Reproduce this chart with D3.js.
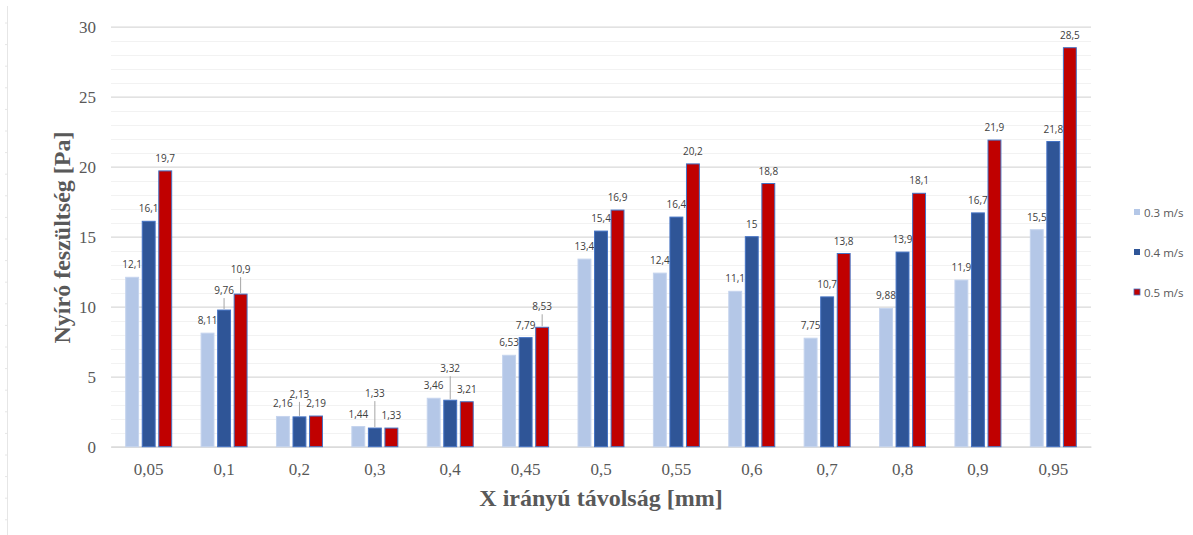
<!DOCTYPE html>
<html>
<head>
<meta charset="utf-8">
<script src="https://cdn.jsdelivr.net/npm/d3@7"></script>
<style>
  html, body { margin: 0; padding: 0; background: #fff; }
  svg { display: block; }
</style>
</head>
<body>
<svg id="chart" width="1193" height="535"></svg>
<script>
// ---- data ----
const categories = ["0,05", "0,1", "0,2", "0,3", "0,4", "0,45", "0,5", "0,55", "0,6", "0,7", "0,8", "0,9", "0,95"];
const seriesNames = ["0.3 m/s", "0.4 m/s", "0.5 m/s"];
const s03 = [12.1, 8.11, 2.16, 1.44, 3.46, 6.53, 13.4, 12.4, 11.1, 7.75, 9.88, 11.9, 15.5];
const s04 = [16.1, 9.76, 2.13, 1.33, 3.32, 7.79, 15.4, 16.4, 15, 10.7, 13.9, 16.7, 21.8];
const s05 = [19.7, 10.9, 2.19, 1.33, 3.21, 8.53, 16.9, 20.2, 18.8, 13.8, 18.1, 21.9, 28.5];
const yTicks = [0, 5, 10, 15, 20, 25, 30];
const xTitle = "X irányú távolság [mm]";
const yTitle = "Nyíró feszültség [Pa]";

// ---- layout / style ----
const colors = ["#b4c7e7", "#2f5597", "#c00000"];
const strokes = ["#c5d4ee", "#4472c4", "#4472c4"];
const plotL = 111, plotR = 1091, plotT = 26.7, plotB = 446.7;
// label lifts (label centre above bar top) for labels that were moved with leader lines
const defaultLift = 13;
const liftOverride = { "1-1": 20, "1-2": 25, "2-1": 23, "3-1": 35, "4-1": 32, "5-2": 21 };

const allSeries = [s03, s04, s05];
const svg = d3.select("#chart");

const x0 = d3.scaleBand().domain(categories).range([plotL, plotR]).paddingInner(0.39).paddingOuter(0.195);
const x1 = d3.scaleBand().domain(d3.range(3)).range([0, x0.bandwidth()]).paddingInner(0.22).paddingOuter(0);
const y = d3.scaleLinear().domain([0, 30]).range([plotB, plotT]);

// faint frame line at left edge
svg.append("line").attr("x1", 7.5).attr("x2", 7.5).attr("y1", 6).attr("y2", 535)
  .attr("stroke", "#e6e6e6").attr("stroke-width", 1);
svg.selectAll(".ftick").data(d3.range(0, 25)).join("line")
  .attr("x1", 5).attr("x2", 7.5)
  .attr("y1", d => 23 + d * 21.6).attr("y2", d => 23 + d * 21.6)
  .attr("stroke", "#e6e6e6");

// minor gridlines
svg.append("g").selectAll("line").data(d3.range(1, 31).filter(v => v % 5 !== 0)).join("line")
  .attr("x1", plotL).attr("x2", plotR)
  .attr("y1", d => Math.round(y(d)) + 0.5).attr("y2", d => Math.round(y(d)) + 0.5)
  .attr("stroke", "#f2f2f2").attr("stroke-width", 1);

// major gridlines via axis
const yAxis = d3.axisLeft(y).tickValues(yTicks).tickSize(-(plotR - plotL)).tickFormat(d => d);
const gy = svg.append("g").attr("transform", `translate(${plotL},0)`).call(yAxis);
gy.select(".domain").remove();
gy.selectAll(".tick line").attr("stroke", "#d9d9d9").attr("stroke-width", 1.2);
gy.selectAll(".tick text")
  .attr("x", -15)
  .attr("font-family", "'Liberation Serif', 'Times New Roman', serif")
  .attr("font-size", 17).attr("fill", "#595959");

// x axis
const xAxis = d3.axisBottom(x0).tickSize(0).tickPadding(0);
const gx = svg.append("g").attr("transform", `translate(0,${plotB})`).call(xAxis);
gx.select(".domain").attr("stroke", "#d9d9d9").attr("stroke-width", 1.2);
gx.selectAll(".tick text")
  .attr("y", 28).attr("dy", 0)
  .attr("font-family", "'Liberation Serif', 'Times New Roman', serif")
  .attr("font-size", 17).attr("fill", "#595959");

const fmt = v => String(v).replace(".", ",");

// bars + labels, series by series
allSeries.forEach((vals, si) => {
  const g = svg.append("g");
  g.selectAll("rect").data(vals).join("rect")
    .attr("x", (d, i) => x0(categories[i]) + x1(si))
    .attr("y", d => y(d))
    .attr("width", x1.bandwidth())
    .attr("height", d => y(0) - y(d))
    .attr("fill", colors[si])
    .attr("stroke", strokes[si]).attr("stroke-width", 1);

  const lg = svg.append("g");
  vals.forEach((v, i) => {
    const cx = x0(categories[i]) + x1(si) + x1.bandwidth() / 2;
    const key = i + "-" + si;
    const lift = liftOverride[key] !== undefined ? liftOverride[key] : defaultLift;
    const ly = y(v) - lift;
    if (liftOverride[key] !== undefined) {
      lg.append("line").attr("x1", cx).attr("x2", cx)
        .attr("y1", ly + 8).attr("y2", y(v) - 1)
        .attr("stroke", "#a6a6a6").attr("stroke-width", 1);
    }
    lg.append("text").attr("x", cx).attr("y", ly)
      .attr("text-anchor", "middle").attr("dominant-baseline", "central")
      .attr("font-family", "'Open Sans', 'DejaVu Sans', sans-serif")
      .attr("font-size", 10).attr("fill", "#404040")
      .text(fmt(v));
  });
});

// axis titles
svg.append("text").attr("x", 601).attr("y", 506).attr("text-anchor", "middle")
  .attr("font-family", "'Liberation Serif', 'Times New Roman', serif")
  .attr("font-weight", "bold").attr("font-size", 24).attr("fill", "#595959")
  .text(xTitle);
svg.append("text").attr("transform", "translate(70,237.5) rotate(-90)").attr("text-anchor", "middle")
  .attr("font-family", "'Liberation Serif', 'Times New Roman', serif")
  .attr("font-weight", "bold").attr("font-size", 24).attr("fill", "#595959")
  .text(yTitle);

// legend
const leg = svg.append("g");
seriesNames.forEach((n, i) => {
  const ly = 212 + i * 40;
  leg.append("rect").attr("x", 1134).attr("y", ly - 3).attr("width", 6).attr("height", 6)
    .attr("fill", colors[i]).attr("stroke", i === 2 ? "#4472c4" : "none").attr("stroke-width", 0.8);
  leg.append("text").attr("x", 1144).attr("y", ly).attr("dominant-baseline", "central")
    .attr("font-family", "'Open Sans', 'DejaVu Sans', sans-serif")
    .attr("font-size", 11.5).attr("fill", "#595959").text(n);
});
</script>
</body>
</html>
